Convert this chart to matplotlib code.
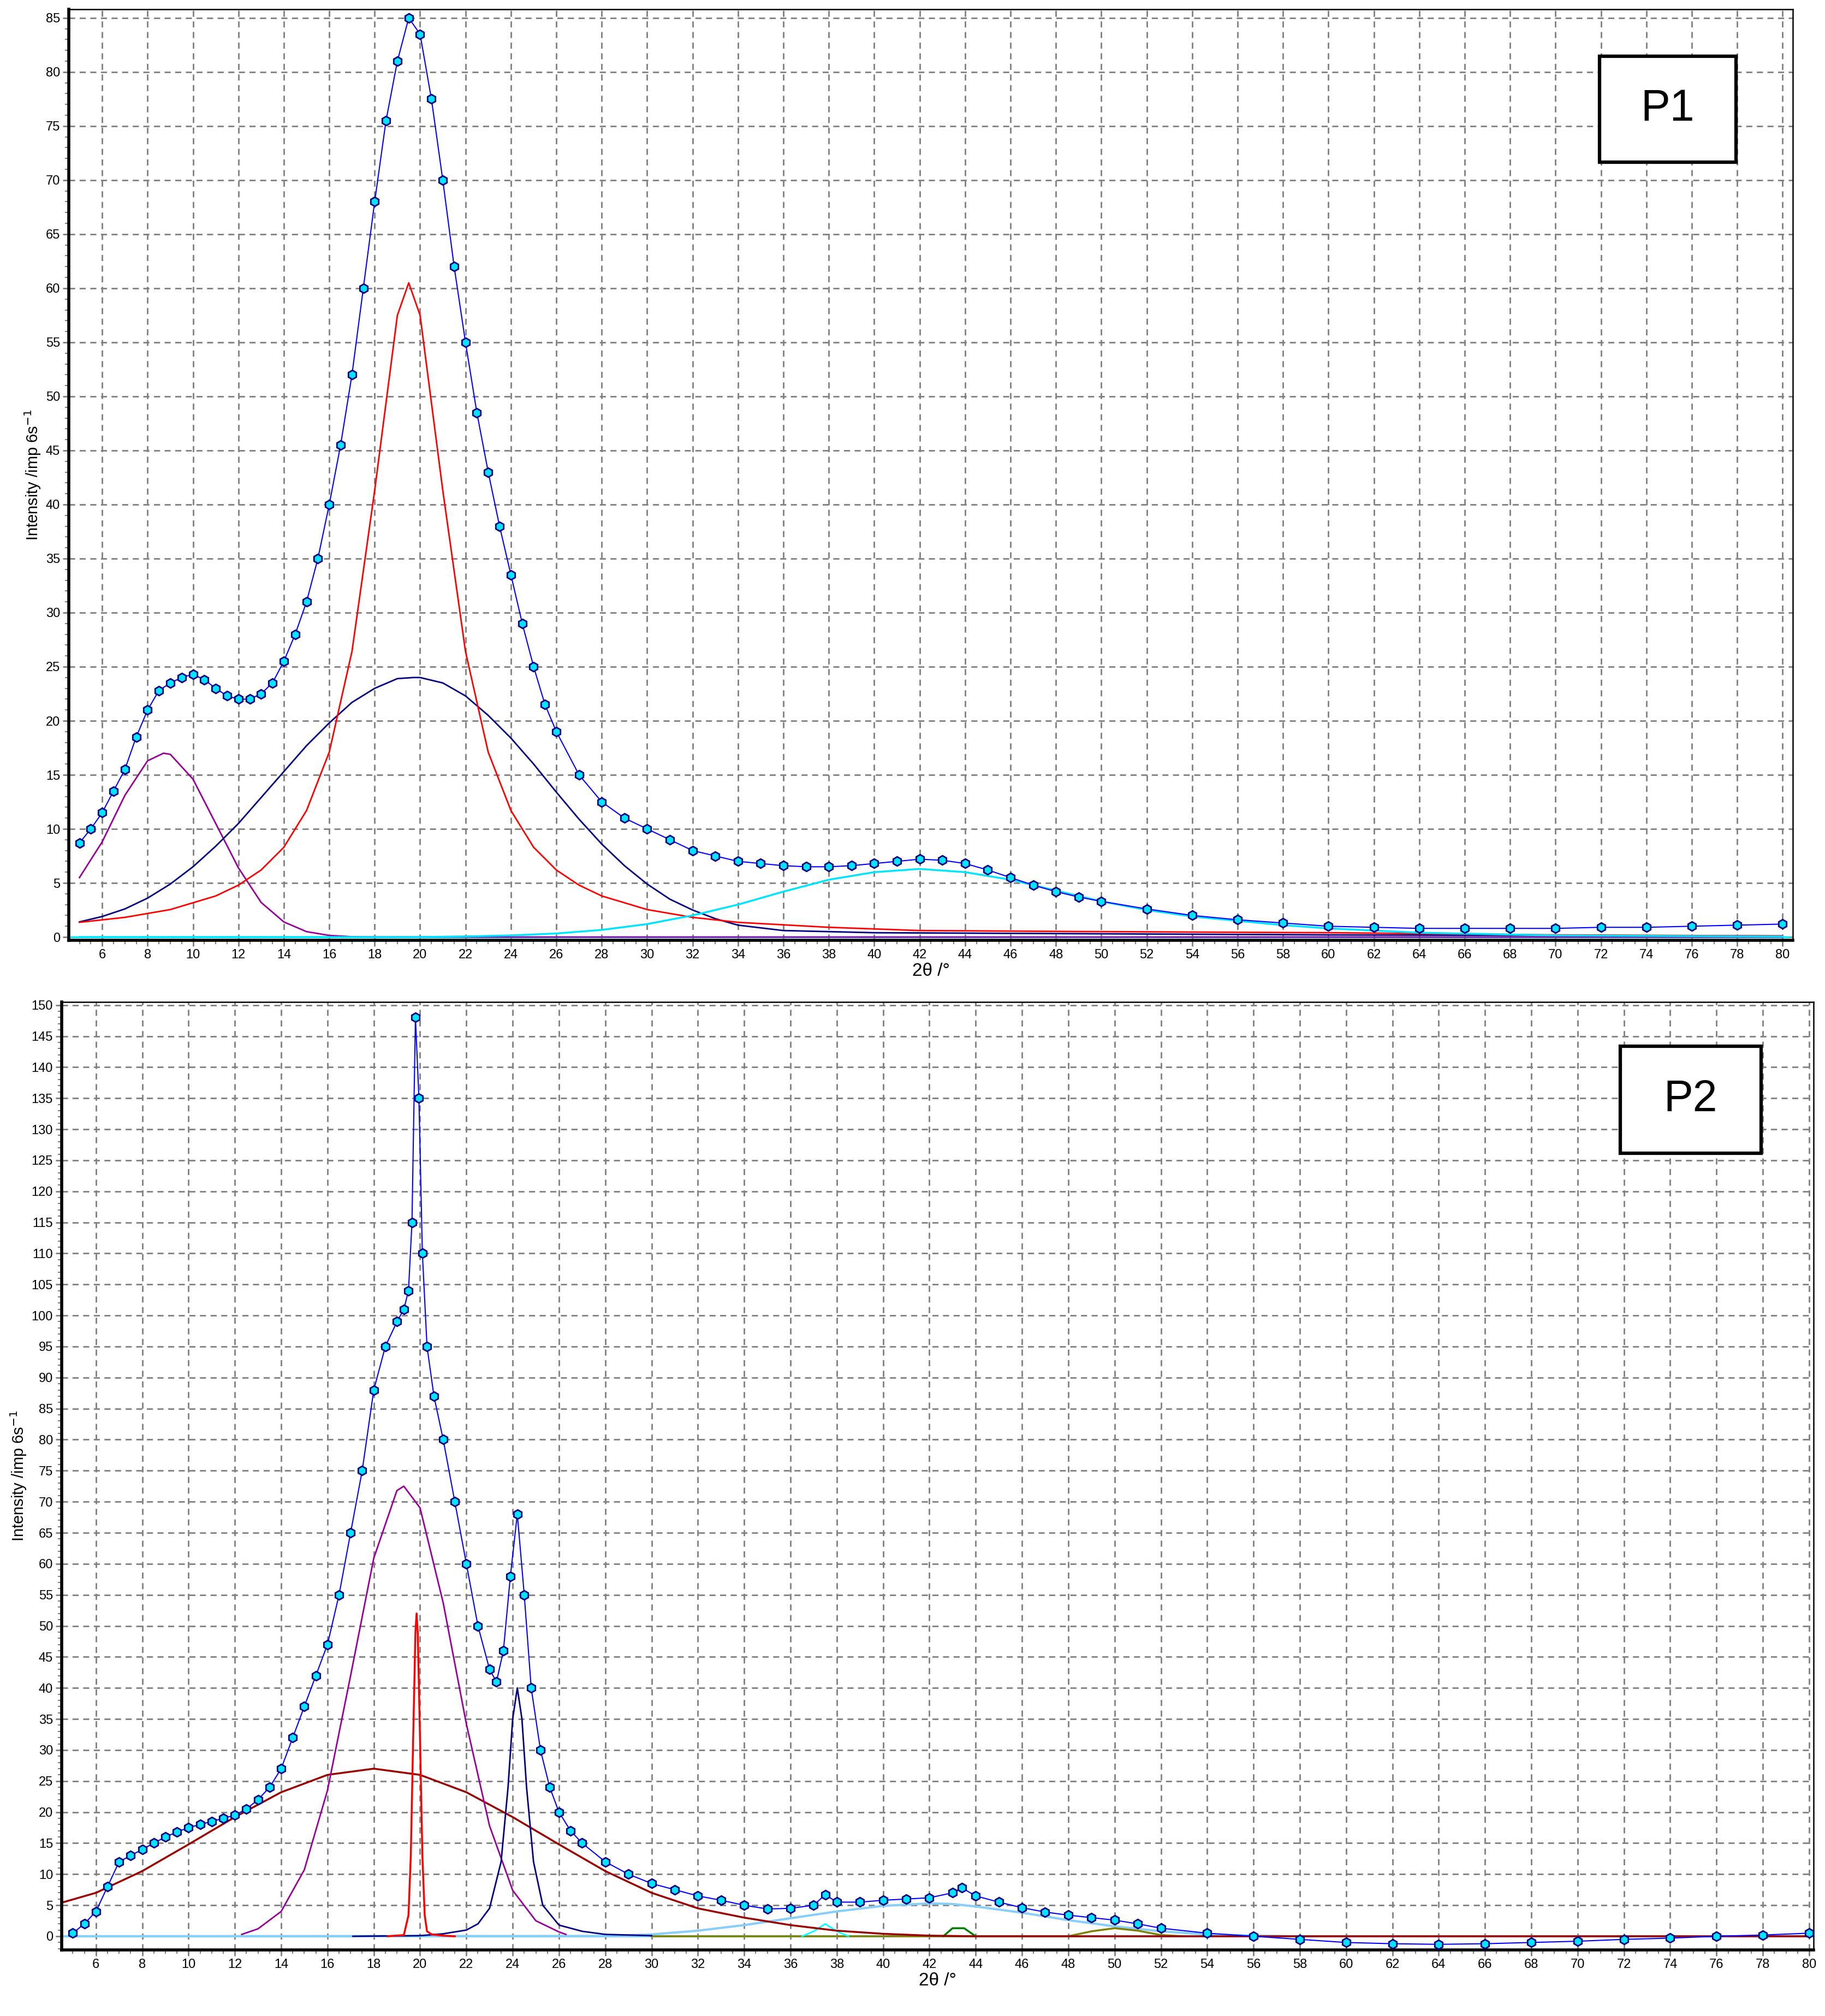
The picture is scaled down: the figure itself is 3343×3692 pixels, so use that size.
import matplotlib
matplotlib.use("Agg")
import matplotlib.pyplot as plt
from matplotlib.ticker import MultipleLocator
from matplotlib.patches import Rectangle

# ---------------- P1 data ----------------
p1_x = [5, 5.5, 6, 6.5, 7, 7.5, 8, 8.5, 9, 9.5, 10, 10.5, 11, 11.5, 12, 12.5, 13, 13.5, 14, 14.5,
        15, 15.5, 16, 16.5, 17, 17.5, 18, 18.5, 19, 19.5, 20, 20.5, 21, 21.5, 22, 22.5, 23, 23.5,
        24, 24.5, 25, 25.5, 26, 27, 28, 29, 30, 31, 32, 33, 34, 35, 36, 37, 38, 39, 40, 41, 42,
        43, 44, 45, 46, 47, 48, 49, 50, 52, 54, 56, 58, 60, 62, 64, 66, 68, 70, 72, 74, 76, 78, 80]
p1_y = [8.7, 10.0, 11.5, 13.5, 15.5, 18.5, 21.0, 22.8, 23.5, 24.0, 24.3, 23.8, 23.0, 22.3, 22.0, 22.0, 22.5, 23.5, 25.5, 28.0,
        31.0, 35.0, 40.0, 45.5, 52.0, 60.0, 68.0, 75.5, 81.0, 85.0, 83.5, 77.5, 70.0, 62.0, 55.0, 48.5, 43.0, 38.0,
        33.5, 29.0, 25.0, 21.5, 19.0, 15.0, 12.5, 11.0, 10.0, 9.0, 8.0, 7.5, 7.0, 6.8, 6.6, 6.5, 6.5, 6.6, 6.8, 7.0, 7.2,
        7.1, 6.8, 6.2, 5.5, 4.8, 4.2, 3.7, 3.3, 2.6, 2.0, 1.6, 1.3, 1.0, 0.9, 0.8, 0.8, 0.8, 0.8, 0.9, 0.9, 1.0, 1.1, 1.2]

p1_purple_x = [5, 6, 7, 8, 8.7, 9, 10, 11, 12, 13, 14, 15, 16, 17, 18, 80]
p1_purple_y = [5.5, 8.8, 13.1, 16.3, 17.0, 16.9, 14.6, 10.5, 6.4, 3.2, 1.4, 0.5, 0.15, 0.03, 0.0, 0.0]

p1_red_x = [5, 7, 9, 11, 12, 13, 14, 15, 16, 17, 18, 19, 19.5, 20, 21, 22, 23, 24, 25, 26, 27, 28,
            30, 32, 34, 38, 42, 50, 60, 70, 80]
p1_red_y = [1.36, 1.82, 2.54, 3.8, 4.8, 6.2, 8.3, 11.7, 17.1, 26.4, 41.3, 57.5, 60.5, 57.5, 41.3, 26.4,
            17.1, 11.7, 8.3, 6.2, 4.8, 3.8, 2.54, 1.82, 1.36, 0.9, 0.6, 0.5, 0.4, 0.2, 0.1]

p1_navy_x = [5, 6, 7, 8, 9, 10, 11, 12, 13, 14, 15, 16, 17, 18, 19, 19.7, 20, 21, 22, 23, 24, 25, 26,
             27, 28, 29, 30, 31, 32, 33, 34, 36, 40, 50, 60, 80]
p1_navy_y = [1.4, 1.9, 2.6, 3.6, 4.9, 6.5, 8.4, 10.5, 12.9, 15.3, 17.7, 19.8, 21.7, 23.0, 23.9, 24.0, 24.0,
             23.5, 22.3, 20.5, 18.4, 16.0, 13.4, 10.9, 8.6, 6.6, 4.9, 3.5, 2.5, 1.7, 1.1, 0.6, 0.4, 0.3, 0.2, 0.1]

p1_cyan_x = [5, 20, 22, 24, 26, 28, 30, 32, 34, 36, 38, 40, 42, 44, 46, 48, 50, 52, 54, 56, 58, 60, 64, 70, 80]
p1_cyan_y = [0, 0, 0.06, 0.15, 0.33, 0.66, 1.2, 2.0, 3.0, 4.2, 5.3, 6.0, 6.3, 6.0, 5.3, 4.3, 3.3, 2.5,
             1.9, 1.5, 1.1, 0.8, 0.4, 0.15, 0.05]

# ---------------- P2 data ----------------
p2_x = [5, 5.5, 6, 6.5, 7, 7.5, 8, 8.5, 9, 9.5, 10, 10.5, 11, 11.5, 12, 12.5, 13, 13.5, 14, 14.5, 15, 15.5,
        16, 16.5, 17, 17.5, 18, 18.5, 19, 19.3, 19.5, 19.65, 19.8, 19.95, 20.1, 20.3, 20.6, 21, 21.5, 22,
        22.5, 23, 23.3, 23.6, 23.9, 24.2, 24.5, 24.8, 25.2, 25.6, 26, 26.5, 27, 28, 29, 30, 31, 32, 33,
        34, 35, 36, 37, 37.5, 38, 39, 40, 41, 42, 43, 43.4, 44, 45, 46, 47, 48, 49, 50, 51, 52, 54, 56,
        58, 60, 62, 64, 66, 68, 70, 72, 74, 76, 78, 80]
p2_y = [0.5, 2.0, 4.0, 8.0, 12.0, 13.0, 14.0, 15.0, 16.0, 16.8, 17.5, 18.0, 18.5, 19.0, 19.5, 20.5, 22.0, 24.0,
        27.0, 32.0, 37.0, 42.0, 47.0, 55.0, 65.0, 75.0, 88.0, 95.0, 99.0, 101.0, 104.0, 115.0, 148.0, 135.0,
        110.0, 95.0, 87.0, 80.0, 70.0, 60.0, 50.0, 43.0, 41.0, 46.0, 58.0, 68.0, 55.0, 40.0, 30.0, 24.0,
        20.0, 17.0, 15.0, 12.0, 10.0, 8.5, 7.5, 6.5, 5.8, 5.0, 4.4, 4.5, 5.0, 6.7, 5.5, 5.5, 5.8, 6.0, 6.2,
        7.0, 7.8, 6.5, 5.5, 4.6, 3.9, 3.4, 3.0, 2.6, 2.0, 1.3, 0.5, 0.0, -0.5, -1.0, -1.2, -1.3, -1.2,
        -1.0, -0.8, -0.5, -0.3, 0.0, 0.2, 0.5]

p2_purple_x = [12.3, 13, 14, 15, 16, 17, 18, 19, 19.3, 20, 21, 22, 23, 24, 25, 26, 26.3]
p2_purple_y = [0.3, 1.2, 4.0, 10.7, 23.5, 42.0, 60.9, 71.8, 72.5, 69.0, 53.7, 34.2, 17.8, 7.4, 2.5, 0.7, 0.3]

p2_red_x = [18.6, 19.3, 19.5, 19.6, 19.7, 19.8, 19.85, 19.9, 20.0, 20.1, 20.2, 20.3, 20.5, 21.0, 21.5]
p2_red_y = [0.0, 0.2, 3.4, 13.0, 31.5, 49.0, 52.0, 49.0, 31.5, 13.0, 3.4, 0.8, 0.3, 0.1, 0.0]

p2_navy_x = [17.1, 20, 21, 22, 22.5, 23, 23.5, 23.8, 24.0, 24.2, 24.4, 24.6, 24.9, 25.3, 26, 27, 28, 30]
p2_navy_y = [0.0, 0.1, 0.4, 1.0, 2.0, 4.5, 12.0, 24.0, 35.0, 40.0, 35.0, 24.0, 12.0, 5.0, 1.8, 0.8, 0.3, 0.1]

p2_brown_x = [4.6, 6, 8, 10, 12, 14, 16, 18, 20, 22, 24, 26, 28, 30, 32, 34, 36, 38, 40, 42, 44, 80]
p2_brown_y = [5.5, 7.0, 10.5, 14.8, 19.2, 23.2, 26.0, 27.0, 26.0, 23.2, 19.2, 14.8, 10.5, 7.0, 4.5, 3.0,
              1.8, 0.9, 0.4, 0.1, 0.0, 0.0]

p2_lblue_x = [4.6, 28, 30, 32, 34, 36, 38, 40, 42, 43, 44, 46, 48, 50, 52, 54, 56, 58, 80]
p2_lblue_y = [0, 0.05, 0.3, 0.9, 1.8, 2.9, 4.0, 4.9, 5.3, 5.2, 4.8, 3.8, 2.6, 1.6, 0.8, 0.3, 0.1, 0, 0]

p2_cyan_x = [36.5, 37.0, 37.5, 38.0, 38.5]
p2_cyan_y = [0.0, 0.8, 2.0, 0.8, 0.0]
p2_green_x = [42.6, 43.0, 43.5, 44.0]
p2_green_y = [0.0, 1.3, 1.3, 0.0]
p2_olive_x = [30, 48, 49, 50, 51, 52, 53]
p2_olive_y = [0.0, 0.0, 0.8, 1.3, 0.9, 0.2, 0.0]

x_ticks = list(range(6, 81, 2))

W, H = 3343, 3692
fig = plt.figure(figsize=(W / 100, H / 100), dpi=100)
plt.rcParams['font.family'] = ['Liberation Sans', 'DejaVu Sans']


def style(ax, xlim, ylim, ystep, yminor):
    ax.set_xlim(*xlim)
    ax.set_ylim(*ylim)
    ax.set_xticks(x_ticks)
    ax.xaxis.set_minor_locator(MultipleLocator(0.5))
    ax.yaxis.set_major_locator(MultipleLocator(ystep))
    ax.yaxis.set_minor_locator(MultipleLocator(yminor))
    ax.grid(True, which='major', color='#808080', linestyle=(0, (4, 3)), linewidth=2.0)
    ax.tick_params(axis='both', which='major', labelsize=17, length=8, width=2, color='#808080')
    ax.tick_params(axis='both', which='minor', length=5, width=1.5, color='#808080')
    for s in ['left', 'bottom']:
        ax.spines[s].set_linewidth(4)
    for s in ['top', 'right']:
        ax.spines[s].set_linewidth(1.8)
    ax.set_axisbelow(True)
    ax.set_xlabel('2θ /°', fontsize=24, labelpad=2)
    ax.set_ylabel('Intensity /imp 6s$^{-1}$', fontsize=21, labelpad=4)


def data(ax, x, y):
    ax.plot(x, y, color='#0000ff', linewidth=1.5, zorder=5,
            marker='h', markersize=12, markerfacecolor='#00e5ff', markeredgecolor='#000080',
            markeredgewidth=2)


def label_box(ax, x0, y0, x1, y1, text):
    ax.add_patch(Rectangle((x0, y0), x1 - x0, y1 - y0, transform=ax.transAxes,
                           facecolor='white', edgecolor='black', linewidth=4.5, zorder=10))
    ax.text((x0 + x1) / 2, (y0 + y1) / 2, text, transform=ax.transAxes, fontsize=58,
            ha='center', va='center', zorder=11)


# ----- top -----
ax1 = fig.add_axes([126 / W, 1 - 1722 / H, (3284 - 126) / W, (1722 - 17) / H])
style(ax1, (4.53, 80.45), (-0.3, 85.8), 5, 1)
ax1.plot([4.6, 80.3], [0, 0], color='#00e5ff', linewidth=2.5)
ax1.plot(p1_purple_x, p1_purple_y, color='#990099', linewidth=2)
ax1.plot(p1_navy_x, p1_navy_y, color='#000080', linewidth=2)
ax1.plot(p1_red_x, p1_red_y, color='#ff0000', linewidth=2)
ax1.plot(p1_cyan_x, p1_cyan_y, color='#00e5ff', linewidth=2.5)
data(ax1, p1_x, p1_y)
label_box(ax1, 0.888, 0.836, 0.967, 0.9496, 'P1')

# ----- bottom -----
ax2 = fig.add_axes([113 / W, 1 - 3571 / H, (3322 - 113) / W, (3571 - 1835) / H])
style(ax2, (4.52, 80.19), (-2.2, 150.5), 5, 1)
ax2.plot([4.6, 80.2], [0, 0], color='#87cefa', linewidth=3)
ax2.plot(p2_lblue_x, p2_lblue_y, color='#87cefa', linewidth=3)
ax2.plot(p2_olive_x, p2_olive_y, color='#808000', linewidth=2.5)
ax2.plot(p2_cyan_x, p2_cyan_y, color='#00ffff', linewidth=2)
ax2.plot(p2_green_x, p2_green_y, color='#008000', linewidth=2.5)
ax2.plot(p2_brown_x, p2_brown_y, color='#990000', linewidth=2.5)
ax2.plot(p2_purple_x, p2_purple_y, color='#990099', linewidth=2)
ax2.plot(p2_navy_x, p2_navy_y, color='#000080', linewidth=2)
ax2.plot(p2_red_x, p2_red_y, color='#ff0000', linewidth=2.5)
data(ax2, p2_x, p2_y)
label_box(ax2, 0.8897, 0.8404, 0.970, 0.9533, 'P2')

fig.savefig('out.png', dpi=100)
